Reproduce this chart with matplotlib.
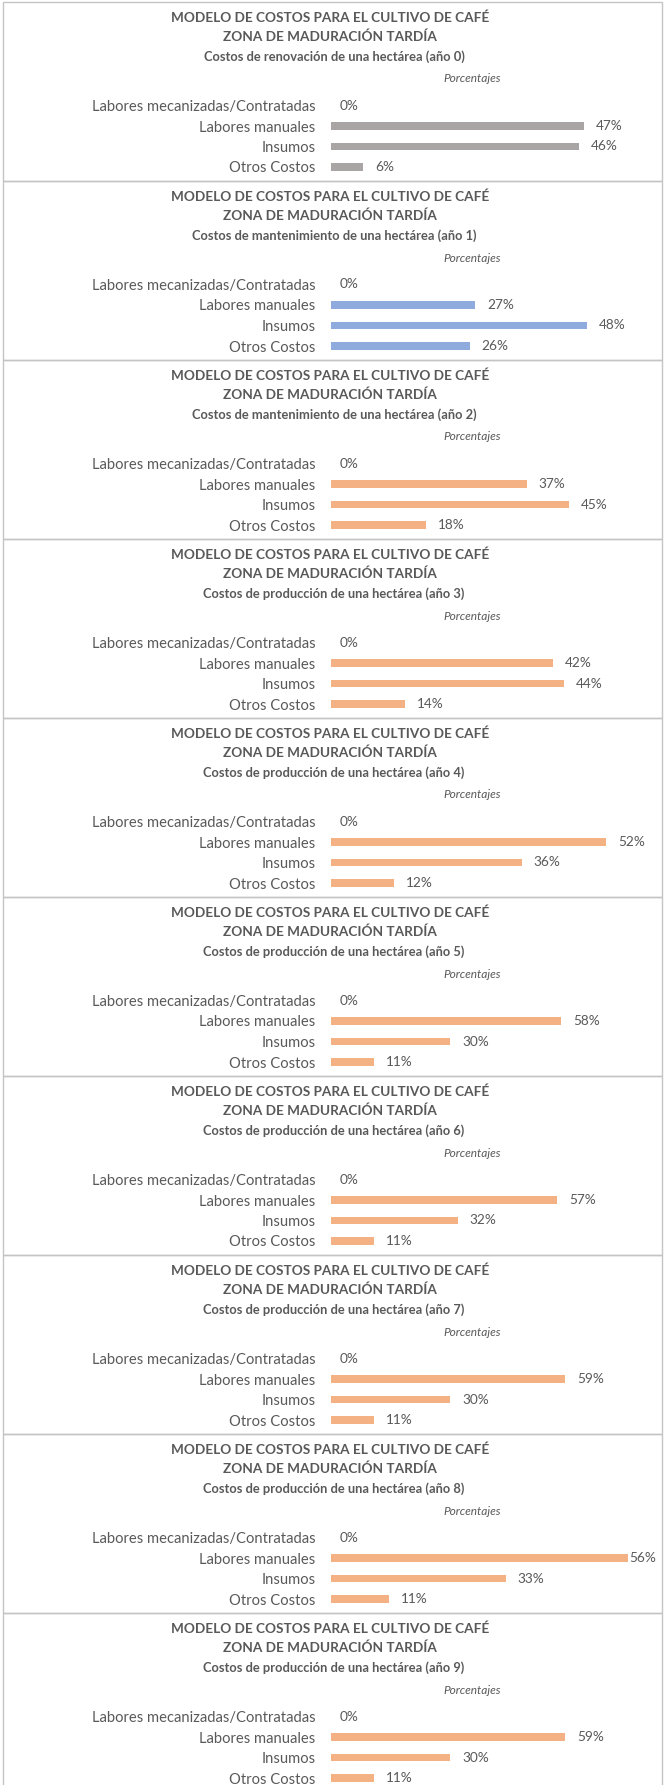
import matplotlib
matplotlib.use("Agg")
import matplotlib.pyplot as plt
from matplotlib.patches import Rectangle

plt.rcParams['font.family'] = ['Lato', 'DejaVu Sans']

categories = ["Labores mecanizadas/Contratadas", "Labores manuales", "Insumos", "Otros Costos"]

subtitles = [
    "Costos de renovación de una hectárea (año 0)",
    "Costos de mantenimiento de una hectárea (año 1)",
    "Costos de mantenimiento de una hectárea (año 2)",
    "Costos de producción de una hectárea (año 3)",
    "Costos de producción de una hectárea (año 4)",
    "Costos de producción de una hectárea (año 5)",
    "Costos de producción de una hectárea (año 6)",
    "Costos de producción de una hectárea (año 7)",
    "Costos de producción de una hectárea (año 8)",
    "Costos de producción de una hectárea (año 9)",
]

# percentages per year: mecanizadas, manuales, insumos, otros
year0 = [0, 47, 46, 6]
year1 = [0, 27, 48, 26]
year2 = [0, 37, 45, 18]
year3 = [0, 42, 44, 14]
year4 = [0, 52, 36, 12]
year5 = [0, 58, 30, 11]
year6 = [0, 57, 32, 11]
year7 = [0, 59, 30, 11]
year8 = [0, 56, 33, 11]
year9 = [0, 59, 30, 11]
years = [year0, year1, year2, year3, year4, year5, year6, year7, year8, year9]

# axis max (Excel picked these)
xmax = [59, 59.5, 60, 60, 60, 80, 80, 80, 60, 80]
colors = ["#A9A5A5", "#8FAADC"] + ["#F4B183"] * 8

W, H = 667, 1785
TXT = "#595959"
fig = plt.figure(figsize=(W / 100, H / 100), dpi=100)

def fx(x):
    return x / W

def fy(y):
    return 1 - y / H

step = 179
row_gap = 20.5
for i, vals in enumerate(years):
    top = 2 + i * step
    fig.patches.append(Rectangle((fx(2.5), fy(top + step)), fx(662) - fx(2.5), step / H,
                                 transform=fig.transFigure, fill=False,
                                 edgecolor="#C4C4C4", lw=1.0))
    fig.text(fx(330), fy(top + 16), "MODELO DE COSTOS PARA EL CULTIVO DE CAFÉ",
             ha="center", va="center", fontsize=9.8, fontweight="bold", color=TXT)
    fig.text(fx(330), fy(top + 35), "ZONA DE MADURACIÓN TARDÍA",
             ha="center", va="center", fontsize=9.8, fontweight="bold", color=TXT)
    fig.text(fx(334), fy(top + 55), subtitles[i],
             ha="center", va="center", fontsize=9.3, fontweight="bold", color=TXT)
    fig.text(fx(472), fy(top + 77), "Porcentajes",
             ha="center", va="center", fontsize=8.6, style="italic", color=TXT)

    r0 = top + 103.5
    y_top = r0 - row_gap / 2
    y_bot = r0 + 3 * row_gap + row_gap / 2
    ax = fig.add_axes([fx(330.7), fy(y_bot), 318 / W, (y_bot - y_top) / H])
    pos = list(range(len(categories)))
    ax.barh(pos, vals, height=0.39, color=colors[i])
    ax.set_xlim(0, xmax[i])
    ax.set_ylim(3.5, -0.5)
    ax.set_yticks(pos)
    ax.set_yticklabels(categories, fontsize=10.6, color=TXT)
    ax.tick_params(axis="y", length=0, pad=11)
    ax.set_xticks([])
    for s in ax.spines.values():
        s.set_visible(False)
    ax.patch.set_alpha(0)
    for p, v in zip(pos, vals):
        end_px = 330.7 + v * 318 / xmax[i]
        if v == 0:
            off = 8.5
        elif end_px > 610:
            off = 2
        else:
            off = 12
        ax.annotate(f"{v}%", (v, p), xytext=(off * 0.72, 0), textcoords="offset points",
                    ha="left", va="center", fontsize=9.8, color=TXT, annotation_clip=False)

fig.savefig("out.png", dpi=100)
